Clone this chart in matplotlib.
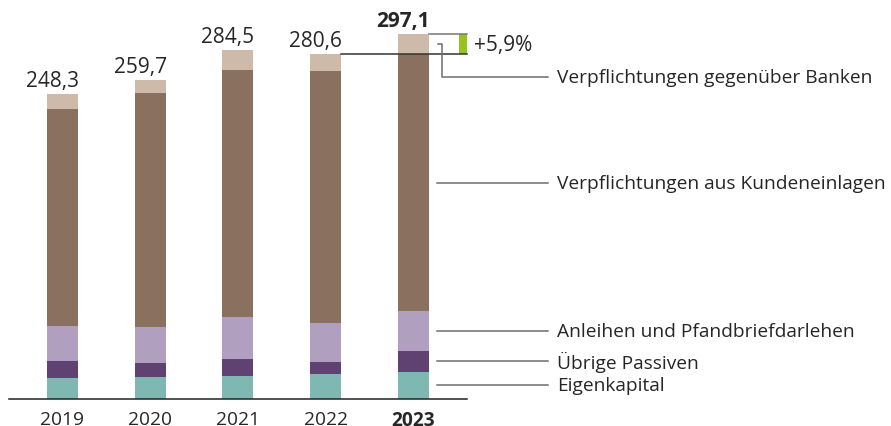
import numpy as np
import matplotlib
matplotlib.use('Agg')
import matplotlib.pyplot as plt

plt.rcParams['font.family'] = ['Open Sans', 'DejaVu Sans']

years = ['2019', '2020', '2021', '2022', '2023']
totals = [248.3, 259.7, 284.5, 280.6, 297.1]
total_labels = ['248,3', '259,7', '284,5', '280,6', '297,1']

eigenkapital = [17.1, 17.9, 18.7, 20.4, 22.0]
uebrige = [13.8, 11.4, 13.8, 9.8, 17.1]
anleihen = [28.5, 29.3, 34.2, 31.8, 32.6]
banken = [12.2, 10.6, 16.3, 13.8, 16.3]
kunden = [t - e - u - a - b for t, e, u, a, b in zip(totals, eigenkapital, uebrige, anleihen, banken)]

series = [eigenkapital, uebrige, anleihen, kunden, banken]
names = ['Eigenkapital', 'Übrige Passiven', 'Anleihen und Pfandbriefdarlehen',
         'Verpflichtungen aus Kundeneinlagen', 'Verpflichtungen gegenüber Banken']
colors = ['#7fb8b3', '#5f4172', '#b09fbf', '#8a705f', '#cdbaa8']
change_label = '+5,9%'

# pixel layout helpers (figure is 891x427 px)
XS, X0 = 87.75, 62.5
YS, Y0 = 1.2283, 400.0
def px(x):
    return (x - X0) / XS
def py(y):
    return (Y0 - y) / YS

fig = plt.figure(figsize=(8.91, 4.27), dpi=100)
ax = fig.add_axes([0, 0, 1, 1])
ax.set_xlim(px(0), px(891))
ax.set_ylim(py(427), py(0))
ax.axis('off')

x = np.arange(len(years))
w = 31 / XS
bottom = np.zeros(len(years))
for vals, c in zip(series, colors):
    ax.bar(x, vals, w, bottom=bottom, color=c, linewidth=0)
    bottom += np.array(vals)

txt = '#262626'
fs = 13.8
fv = 15
ax.plot([px(9), px(467)], [0, 0], color='#222222', lw=1.1)

for i, (yr, t, lab) in enumerate(zip(years, totals, total_labels)):
    bold = 'bold' if i == len(years) - 1 else 'normal'
    ax.text(x[i] + w / 2 + 0.01, t + 8 / YS, lab, ha='right', va='baseline',
            fontsize=fv, color=txt, fontweight=bold)
    ax.text(x[i], py(411.5), yr, ha='center', va='top', fontsize=fs,
            color=txt, fontweight=bold)

# change bracket
t22, t23 = totals[3], totals[4]
ax.plot([x[3] + w / 2, px(467)], [t22, t22], color='#333333', lw=1.1)
ax.plot([x[4] + w / 2, px(467)], [t23, t23], color='#777777', lw=1.1)
ax.bar(px(463), t23 - t22, 8 / XS, bottom=t22, color='#97c31f', linewidth=0)
ax.text(px(474), (t22 + t23) / 2, change_label, ha='left', va='center',
        fontsize=fv, color=txt)

# leader lines to 2023 segments
lc = '#6e6e6e'
cum = np.cumsum([s[4] for s in series])
mids = cum - np.array([s[4] for s in series]) / 2
for k, (name, m) in enumerate(zip(names, mids)):
    if k == 4:
        ylab = py(78)
        ax.plot([px(438), px(442), px(442), px(548)], [m, m, ylab, ylab],
                color=lc, lw=1.1)
    else:
        ylab = m
        ax.plot([px(437), px(548)], [m, m], color=lc, lw=1.1)
    ax.text(px(557), ylab, name, ha='left', va='center', fontsize=fs, color=txt)

fig.savefig('out.png', dpi=100)
